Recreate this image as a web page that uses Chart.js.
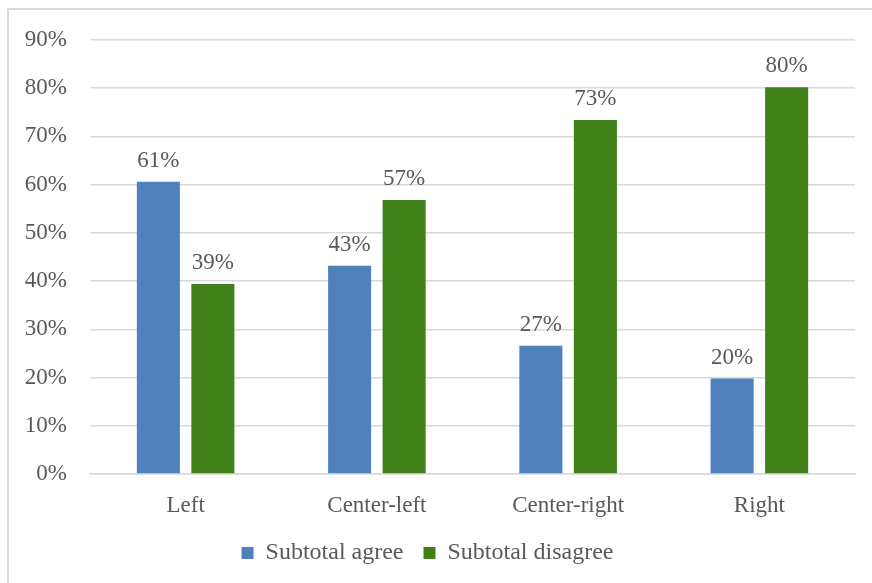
<!DOCTYPE html>
<html>
<head>
<meta charset="utf-8">
<script src="https://cdn.jsdelivr.net/npm/chart.js@4"></script>
<style>
    html, body { margin: 0; padding: 0; background: #fff; overflow: hidden; }
    #frame {
        position: absolute; left: 7px; top: 8px;
        width: 900px; height: 600px;
        border: 2px solid #d9d9d9;
    }
    #wrap { position: absolute; left: 0; top: 0; width: 872px; height: 583px; }
</style>
</head>
<body>
<div id="frame"></div>
<div id="wrap"><canvas id="chart"></canvas></div>
<script>
// Chart data
const categories = ['Left', 'Center-left', 'Center-right', 'Right'];
const agreeValues = [60.6, 43.2, 26.6, 19.8];
const disagreeValues = [39.4, 56.8, 73.4, 80.2];
const seriesNames = ['Subtotal agree', 'Subtotal disagree'];
const yTicks = [0, 10, 20, 30, 40, 50, 60, 70, 80, 90];

const FONT = "'Liberation Serif', 'Times New Roman', serif";
const TEXT = '#595959';
const SIZE = 23;

// Draws the rounded percentage above every bar
const valueLabels = {
    id: 'valueLabels',
    afterDatasetsDraw(chart) {
        const ctx = chart.ctx;
        ctx.save();
        ctx.font = SIZE + 'px ' + FONT;
        ctx.fillStyle = TEXT;
        ctx.textAlign = 'center';
        ctx.textBaseline = 'alphabetic';
        chart.data.datasets.forEach((ds, i) => {
            chart.getDatasetMeta(i).data.forEach((bar, j) => {
                ctx.fillText(Math.round(ds.data[j]) + '%', bar.x, bar.y - 15);
            });
        });
        ctx.restore();
    }
};

const ctx = document.getElementById('chart').getContext('2d');
new Chart(ctx, {
    type: 'bar',
    data: {
        labels: categories,
        datasets: [
            {
                label: seriesNames[0],
                data: agreeValues,
                backgroundColor: '#4f81bd',
                categoryPercentage: 0.57,
                barPercentage: 0.79
            },
            {
                label: seriesNames[1],
                data: disagreeValues,
                backgroundColor: '#42801a',
                categoryPercentage: 0.57,
                barPercentage: 0.79
            }
        ]
    },
    options: {
        responsive: true,
        maintainAspectRatio: false,
        animation: false,
        layout: {
            padding: { left: 0, right: 17, top: 40, bottom: 8 }
        },
        plugins: {
            legend: {
                position: 'bottom',
                labels: {
                    boxWidth: 12,
                    boxHeight: 12,
                    padding: 20,
                    color: TEXT,
                    font: { family: FONT, size: 24 }
                }
            },
            tooltip: { enabled: false }
        },
        scales: {
            x: {
                grid: { display: false },
                border: { color: '#d9d9d9', width: 1.5 },
                ticks: {
                    color: TEXT,
                    padding: 10,
                    font: { family: FONT, size: SIZE }
                },
                afterFit(scale) { scale.height = 47; }
            },
            y: {
                min: 0,
                max: 90,
                afterBuildTicks(scale) {
                    scale.ticks = yTicks.map(v => ({ value: v }));
                },
                afterFit(scale) { scale.width = 90; },
                grid: { color: '#d9d9d9', lineWidth: 1.5, drawTicks: false },
                border: { display: false },
                ticks: {
                    color: TEXT,
                    padding: 23,
                    font: { family: FONT, size: SIZE },
                    callback: v => v + '%'
                }
            }
        }
    },
    plugins: [valueLabels]
});
</script>
</body>
</html>
